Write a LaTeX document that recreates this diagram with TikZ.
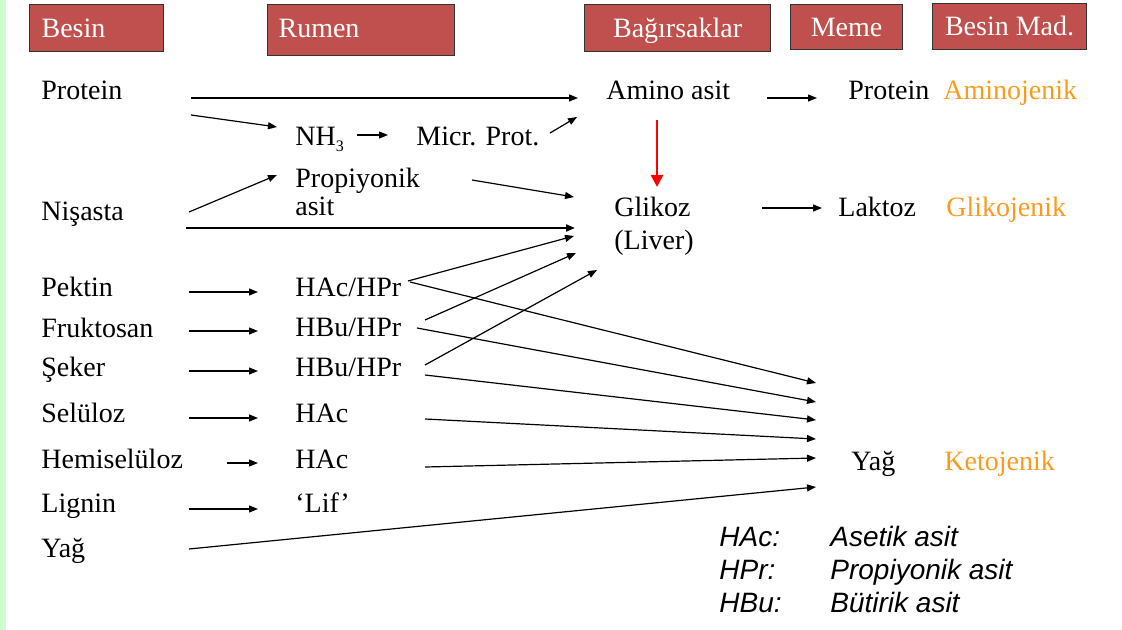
\documentclass[tikz,border=0pt]{standalone}
\usepackage{fontspec}
\setmainfont{Liberation Serif}
\newfontfamily\legendfont{Liberation Sans}
\usetikzlibrary{arrows.meta}

\definecolor{hdrred}{RGB}{192,80,77}
\definecolor{typorange}{RGB}{250,155,30}
\definecolor{stripgreen}{RGB}{204,255,204}

\tikzset{
  hdr/.style={draw=black!80, line width=0.6pt, fill=hdrred, text=white, anchor=north west,
    inner sep=0pt, font=\fontsize{14}{16}\selectfont, text height=11pt, text depth=2pt},
  txt/.style={anchor=base west, inner sep=0pt, font=\fontsize{14}{16}\selectfont},
  typ/.style={txt, text=typorange},
  lgd/.style={anchor=base west, inner sep=0pt, font=\legendfont\itshape\fontsize{14}{16}\selectfont},
  arr/.style={-{Triangle[length=4.5pt,width=3.5pt]}, line width=0.6pt},
  redarr/.style={-{Triangle[length=6pt,width=6pt]}, line width=1.3pt, red},
}

\begin{document}
\begin{tikzpicture}[x=0.5pt,y=-0.5pt]
\useasboundingbox (0,0) rectangle (1122,630);
\fill[stripgreen] (0,0) rectangle (6,630);

% draw headers
\node[hdr, minimum width=67pt, minimum height=23.5pt, text width=55pt, align=left] (hBesin) at (29,4) {Besin};
\node[hdr, minimum width=93.5pt, minimum height=25.5pt, text width=82.5pt, align=left, text height=10pt, text depth=3pt] (hRumen) at (267,4) {Rumen};
\node[hdr, minimum width=93pt, minimum height=23.5pt] (hBagirsak) at (584,4) {Bağırsaklar};
\node[hdr, minimum width=56pt, minimum height=22.5pt] (hMeme) at (790,4) {Meme};
\node[hdr, minimum width=77pt, minimum height=23pt] (hBesinMad) at (932,3) {Besin Mad.};

% draw Besin column
\node[txt] (protein) at (41,100) {Protein};
\node[txt] (nisasta) at (41,221) {Nişasta};
\node[txt] (pektin) at (41,297) {Pektin};
\node[txt] (fruktosan) at (41,337) {Fruktosan};
\node[txt] (seker) at (41,376) {Şeker};
\node[txt] (seluloz) at (41,422) {Selüloz};
\node[txt] (hemi) at (41,468) {Hemiselüloz};
\node[txt] (lignin) at (41,512) {Lignin};
\node[txt] (yagA) at (41,557) {Yağ};

% draw Rumen column
\node[txt] (nh) at (295,146) {NH\raisebox{-3pt}{\fontsize{8}{8}\selectfont 3}};
\node[txt] (micr) at (416,146) {Micr. Prot.};
\node[txt] (prop) at (295,188) {Propiyonik};
\node[txt] (propasit) at (295,216) {asit};
\node[txt] (hachpr) at (295,296) {HAc/HPr};
\node[txt] (hbuA) at (295,336) {HBu/HPr};
\node[txt] (hbuB) at (295,376) {HBu/HPr};
\node[txt] (hacA) at (295,422) {HAc};
\node[txt] (hacB) at (295,468) {HAc};
\node[txt] (lif) at (295,512) {`Lif'};

% draw Bagirsak, Meme, Besin Mad.
\node[txt] (amino) at (606,100) {Amino asit};
\node[txt] (glikoz) at (614,217) {Glikoz};
\node[txt] (liver) at (614,250) {(Liver)};
\node[txt] (protB) at (848,100) {Protein};
\node[txt] (laktoz) at (838,217) {Laktoz};
\node[txt] (yagB) at (851,470) {Yağ};
\node[typ] (aminoj) at (943,100) {Aminojenik};
\node[typ] (glikoj) at (946,217) {Glikojenik};
\node[typ] (keto) at (944,470) {Ketojenik};

% draw legend
\node[lgd] (lHAc) at (719,546) {HAc:};
\node[lgd] (lHPr) at (719,579) {HPr:};
\node[lgd] (lHBu) at (719,612) {HBu:};
\node[lgd] (lAset) at (830,546) {Asetik asit};
\node[lgd] (lProp) at (830,579) {Propiyonik asit};
\node[lgd] (lBut) at (830,612) {Bütirik asit};

% draw protein path
\draw[arr] ([shift={(150,-2)}]protein.base west) -- ([shift={(-28,-2)}]amino.base west);
\draw[arr] ([shift={(150,15)}]protein.base west) -- ([shift={(-18,-19)}]nh.base west);
\draw[arr] ([shift={(62,-11)}]nh.base west) -- ([shift={(-28,-11)}]micr.base west);
\draw[arr] ([shift={(134,-13)}]micr.base west) -- ([shift={(-29,17)}]amino.base west);
\draw[arr] ([shift={(161,-2)}]amino.base west) -- ([shift={(-31,-2)}]protB.base west);
\draw[redarr] ([shift={(51,20)}]amino.base west) -- ([shift={(43,-30)}]glikoz.base west);

% draw starch path
\draw[arr] ([shift={(148,-9)}]nisasta.base west) -- ([shift={(-18,-13)}]prop.base west);
\draw[arr] ([shift={(177,-8)}]prop.base west) -- ([shift={(-40,-20)}]glikoz.base west);
\draw[arr, line width=1pt] ([shift={(145,7)}]nisasta.base west) -- ([shift={(-39,11)}]glikoz.base west);
\draw[arr] ([shift={(148,-9)}]glikoz.base west) -- ([shift={(-16,-9)}]laktoz.base west);

% draw fermentation
\draw[arr] ([shift={(148,-5)}]pektin.base west) -- ([shift={(-37,-4)}]hachpr.base west);
\draw[arr] ([shift={(148,-6)}]fruktosan.base west) -- ([shift={(-37,-5)}]hbuA.base west);
\draw[arr] ([shift={(148,-5)}]seker.base west) -- ([shift={(-37,-5)}]hbuB.base west);
\draw[arr] ([shift={(148,-4)}]seluloz.base west) -- ([shift={(-37,-4)}]hacA.base west);
\draw[arr] ([shift={(186,-5)}]hemi.base west) -- ([shift={(-37,-5)}]hacB.base west);
\draw[arr] ([shift={(148,-3)}]lignin.base west) -- ([shift={(-37,-3)}]lif.base west);

% draw acids to Glikoz
\draw[arr] ([shift={(113,-15)}]hachpr.base west) -- ([shift={(-40,19)}]glikoz.base west);
\draw[arr] ([shift={(130,-16)}]hbuA.base west) -- ([shift={(-38,36)}]glikoz.base west);
\draw[arr] ([shift={(130,-11)}]hbuB.base west) -- ([shift={(-17,53)}]glikoz.base west);

% draw acids to Yag
\draw[arr] ([shift={(115,-14)}]hachpr.base west) -- ([shift={(-35,-87)}]yagB.base west);
\draw[arr] ([shift={(122,-8)}]hbuA.base west) -- ([shift={(-35,-68)}]yagB.base west);
\draw[arr] ([shift={(130,-1)}]hbuB.base west) -- ([shift={(-35,-50)}]yagB.base west);
\draw[arr] ([shift={(130,-3)}]hacA.base west) -- ([shift={(-35,-31)}]yagB.base west);
\draw[arr] ([shift={(130,-1)}]hacB.base west) -- ([shift={(-35,-12)}]yagB.base west);
\draw[arr] ([shift={(148,-8)}]yagA.base west) -- ([shift={(-35,17)}]yagB.base west);

\end{tikzpicture}
\end{document}
